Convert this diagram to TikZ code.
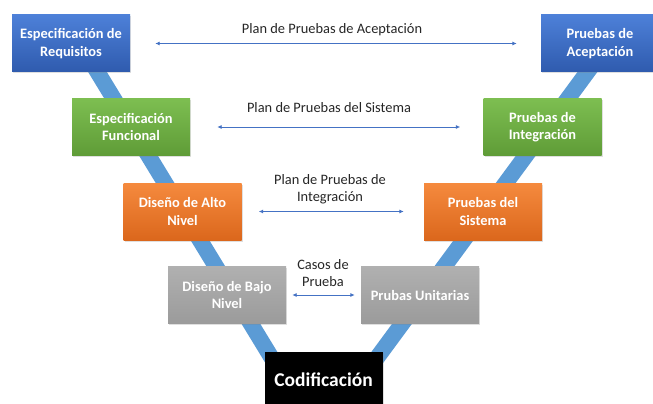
\documentclass[tikz,border=0pt]{standalone}
\usepackage{fontspec}
\setmainfont{Carlito}
\usetikzlibrary{arrows.meta,shadows}

\definecolor{banda}{HTML}{5B9BD5}
\definecolor{flecha}{HTML}{4472C4}
\definecolor{texto}{HTML}{262626}
\definecolor{azularriba}{HTML}{4D80D8}
\definecolor{azulabajo}{HTML}{2F5BAE}
\definecolor{verdearriba}{HTML}{7DBE51}
\definecolor{verdeabajo}{HTML}{5F9C37}
\definecolor{naranjaarriba}{HTML}{F58A3E}
\definecolor{naranjaabajo}{HTML}{DB671C}
\definecolor{grisarriba}{HTML}{B0B0B0}
\definecolor{grisabajo}{HTML}{9B9B9B}

\tikzset{
    fase/.style={
        minimum width=118pt,
        minimum height=57pt,
        align=center,
        text=white,
        inner sep=2pt,
        font=\bfseries\fontsize{14.4}{17.5}\selectfont,
        drop shadow={opacity=0.25,shadow xshift=1pt,shadow yshift=-1.5pt}
    },
    azul/.style={fase,top color=azularriba,bottom color=azulabajo},
    verde/.style={fase,top color=verdearriba,bottom color=verdeabajo},
    naranja/.style={fase,top color=naranjaarriba,bottom color=naranjaabajo},
    gris/.style={fase,top color=grisarriba,bottom color=grisabajo},
    vband/.style={banda,line width=16pt},
    plan/.style={texto,align=center,font=\fontsize{14.4}{17}\selectfont},
    enlace/.style={<->,flecha,line width=0.9pt,>={Latex[length=4.5pt,width=4pt]}}
}

\begin{document}
\begin{tikzpicture}[x=1pt,y=-1pt]
            \clip (0,0) rectangle (653,404);
            \fill[white] (0,0) rectangle (653,404);
            % brazos de la V
            \draw[vband] (78,40) -- (279,370);
            \draw[vband] (611,40) -- (368,370);
            % fases de desarrollo
            \node[azul] (req) at (71,43.5) {Especificación de\\Requisitos};
            \node[verde] (func) at (131,127) {Especificación\\Funcional};
            \node[naranja] (alto) at (182.5,211.5) {Diseño de Alto\\Nivel};
            \node[gris] (bajo) at (227,295) {Diseño de Bajo\\Nivel};
            % fases de pruebas
            \node[azul] (acep) at (600,43.5) {Pruebas de\\Aceptación};
            \node[verde] (integ) at (542.5,127) {Pruebas de\\Integración};
            \node[naranja] (sist) at (483,211.5) {Pruebas del\\Sistema};
            \node[gris] (unit) at (420,295) {Prubas Unitarias};
            \node[fase,fill=black,font=\bfseries\fontsize{19.5}{22}\selectfont] (cod) at (323.5,380) {Codificación};
            % planes
            \node[plan] (pacep) at (332,30) {Plan de Pruebas de Aceptación};
            \node[plan] (psist) at (329,108) {Plan de Pruebas del Sistema};
            \node[plan] (pinteg) at (330,189.5) {Plan de Pruebas de\\Integración};
            \node[plan] (casos) at (323,273) {Casos de\\Prueba};
            \draw[enlace,shorten <=25pt,shorten >=24pt] (req) -- (acep);
            \draw[enlace,shorten <=27pt,shorten >=23pt] (func) -- (integ);
            \draw[enlace,shorten <=17pt,shorten >=20pt] (alto) -- (sist);
            \draw[enlace,shorten <=6pt,shorten >=6pt] (bajo) -- (unit);
        \end{tikzpicture}
\end{document}
